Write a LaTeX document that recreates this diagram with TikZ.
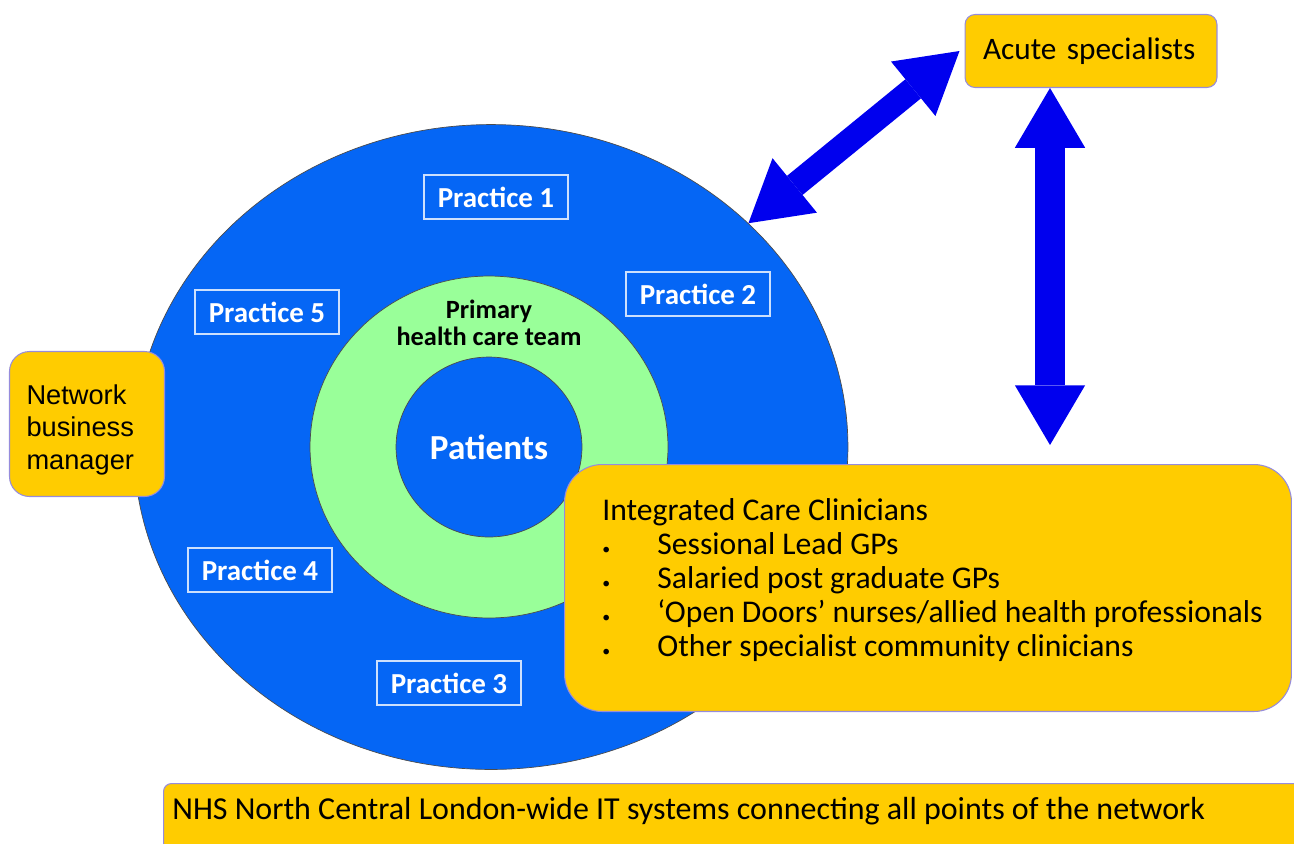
\documentclass[tikz,border=0pt]{standalone}
\usepackage{fontspec}
\setmainfont{Carlito}
\newfontfamily\arialfont{Liberation Sans}
\usetikzlibrary{shapes.geometric,arrows.meta,positioning}
\definecolor{gold}{RGB}{255,204,0}
\definecolor{boxedge}{RGB}{150,140,220}
\definecolor{netblue}{RGB}{5,102,245}
\definecolor{teamgreen}{RGB}{153,255,153}
\definecolor{arrowblue}{RGB}{0,0,238}
\tikzset{
	goldbox/.style={draw=boxedge, fill=gold, line width=0.6pt},
	ring/.style={ellipse, draw=black!70, inner sep=0pt},
	practice/.style={draw=white!80!netblue, line width=0.8pt, text=white, minimum width=2.88cm, minimum height=0.88cm, font=\bfseries\fontsize{16.5}{19}\selectfont},
	bigarrow/.style={draw=arrowblue, arrows={Triangle[length=34pt,width=40pt,line width=0pt]-Triangle[length=34pt,width=40pt,line width=0pt]}}
}
\begin{document}
\begin{tikzpicture}[x=0.02cm,y=-0.02cm]
	\useasboundingbox (0,0) rectangle (1294,843);
	
	\node[ring, fill=netblue, minimum width=14.28cm, minimum height=12.9cm] at (491,447) (network) {};
	\node[ring, fill=teamgreen, minimum width=7.16cm, minimum height=6.84cm] at (489,447) (team) {};
	\node[ring, fill=netblue, minimum width=3.72cm, minimum height=3.6cm, text=white, font=\bfseries\fontsize{20}{24}\selectfont] at (489,447) (patients) {Patients};
	\node[align=center, font=\bfseries\fontsize{15}{15.4}\selectfont] at (489,323) (teamlabel) {Primary\\health care team};
	
	\node[practice] at (496,197) (p1) {Practice 1};
	\node[practice] at (698,294) (p2) {Practice 2};
	\node[practice] at (449,683) (p3) {Practice 3};
	\node[practice] at (260,570) (p4) {Practice 4};
	\node[practice] at (267,312) (p5) {Practice 5};
	
	\node[goldbox, rounded corners=0.4cm, minimum height=2.9cm, text width=2.42cm, inner xsep=0.34cm, align=left, font=\arialfont\fontsize{15.5}{18.7}\selectfont] at (87,424) (manager) {\rule{0pt}{0.63cm}Network\\business\\manager};
	
	\node[goldbox, rounded corners=0.2cm, minimum height=1.46cm, text width=4.32cm, inner xsep=0.36cm, align=left, font=\fontsize{17.8}{20}\selectfont] at (1091,51) (acute) {Acute specialists};
	
	\node[goldbox, rounded corners=0.75cm, minimum width=14.54cm, minimum height=4.94cm] at (928,588) (icc) {};
	\node[anchor=north west, inner sep=0pt, font=\fontsize{18}{19.4}\selectfont] at ([xshift=0.76cm,yshift=-0.64cm]icc.north west) (icclist) {%
		\begin{tabular}{@{}p{1.1cm}@{}l@{}}
			\multicolumn{2}{@{}l@{}}{Integrated Care Clinicians}\\
			{\small\textbullet} & Sessional Lead GPs\\
			{\small\textbullet} & Salaried post graduate GPs\\
			{\small\textbullet} & ‘Open Doors’ nurses/allied health professionals\\
			{\small\textbullet} & Other specialist community clinicians
	\end{tabular}};
	
	\node[goldbox, rounded corners=0.16cm, anchor=north west, minimum width=23.6cm, minimum height=2cm] at (163,783) (nhs) {};
	\node[anchor=west, inner sep=0pt, font=\fontsize{18.2}{21}\selectfont] at ([xshift=0.18cm,yshift=-0.56cm]nhs.north west) (nhstext) {NHS North Central London-wide IT systems connecting all points of the network};
	
	\coordinate (vend) at (1050,445);
	\draw[bigarrow, line width=17pt] (vend |- acute.south) -- (vend);
	\draw[bigarrow, line width=14pt] (network.41.6) -- ([xshift=-0.1cm]acute.west);
\end{tikzpicture}
\end{document}
